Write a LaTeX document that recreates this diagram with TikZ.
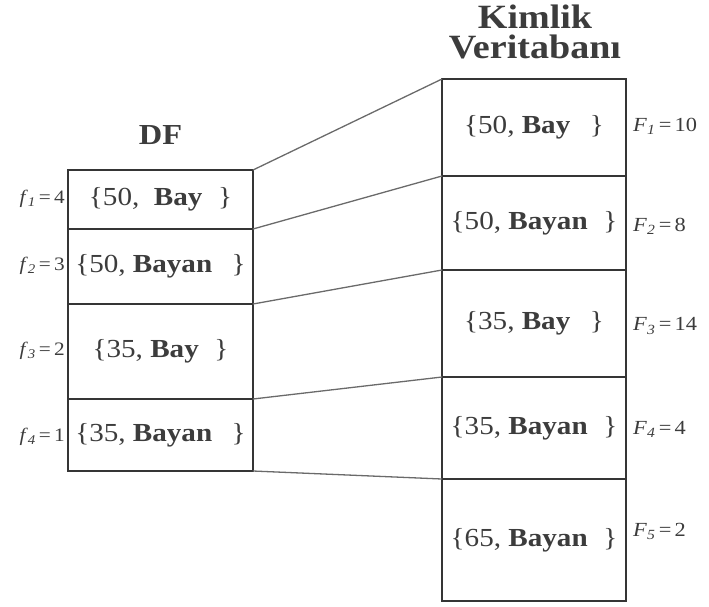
\documentclass[tikz,border=0pt]{standalone}
\usepackage{fontspec}
\setmainfont{Liberation Serif}[FakeStretch=1.12]
\definecolor{ink}{HTML}{3C3C3C}
\definecolor{rule}{HTML}{353535}
\definecolor{link}{HTML}{6A6A6A}
\begin{document}
\begin{tikzpicture}[x=1pt,y=-1pt,
  cell/.style={draw=rule, line width=2.4pt, outer sep=0pt, inner sep=0pt,
    text=ink, font=\fontsize{26}{30}\selectfont},
  lcell/.style={cell, minimum width=185pt},
  rcell/.style={cell, minimum width=184pt},
  link/.style={draw=link, line width=1.3pt},
  flab/.style={text=ink, inner sep=0pt, anchor=east, font=\fontsize{19}{22}\selectfont},
  Flab/.style={text=ink, inner sep=0pt, anchor=west, font=\fontsize{20}{24}\selectfont},
  title/.style={text=ink, inner sep=0pt, align=center}
]
\useasboundingbox (0,0) rectangle (709,606);

% titles
\node[title, anchor=base, font=\bfseries\fontsize{29}{31}\selectfont] (tdf) at (160.5,144) {DF};
\node[title, anchor=north, font=\bfseries\fontsize{34}{30}\selectfont] (tkv) at (535,5) {Kimlik\\Veritaban\i};

% left table (DF)
\node[lcell, minimum height=59pt] (l1) at (160.5,199.5) {\{50, \ \textbf{Bay}\hspace{0.6em}\}};
\node[lcell, minimum height=75pt] (l2) at (160.5,266.5) {\{50, \textbf{Bayan}\hspace{0.75em}\}};
\node[lcell, minimum height=95pt] (l3) at (160.5,351.5) {\{35, \textbf{Bay}\hspace{0.6em}\}};
\node[lcell, minimum height=72pt] (l4) at (160.5,435) {\{35, \textbf{Bayan}\hspace{0.75em}\}};

% right table (Kimlik Veritabani)
\node[rcell, minimum height=97pt] (r1) at (534,127.5) {\{50, \textbf{Bay}\hspace{0.75em}\}};
\node[rcell, minimum height=94pt] (r2) at (534,223) {\{50, \textbf{Bayan}\hspace{0.6em}\}};
\node[rcell, minimum height=107pt] (r3) at (534,323.5) {\{35, \textbf{Bay}\hspace{0.75em}\}};
\node[rcell, minimum height=102pt] (r4) at (534,428) {\{35, \textbf{Bayan}\hspace{0.6em}\}};
\node[rcell, minimum height=122pt] (r5) at (534,540) {\{65, \textbf{Bayan}\hspace{0.6em}\}};

% connectors between the tables
\draw[link] (l1.north east) -- (r1.north west);
\draw[link] (l1.south east) -- (r2.north west);
\draw[link] (l2.south east) -- (r3.north west);
\draw[link] (l3.south east) -- (r4.north west);
\draw[link] (l4.south east) -- (r5.north west);

% frequency labels
\node[flab] (f1) at (65,199) {\textit{f}\textsubscript{\textit{1}}\,=\,4};
\node[flab] (f2) at (65,266) {\textit{f}\textsubscript{\textit{2}}\,=\,3};
\node[flab] (f3) at (65,351) {\textit{f}\textsubscript{\textit{3}}\,=\,2};
\node[flab] (f4) at (65,437) {\textit{f}\textsubscript{\textit{4}}\,=\,1};

\node[Flab] (F1) at (633,126) {\textit{F}\textsubscript{\textit{1}}\,=\,10};
\node[Flab] (F2) at (633,226) {\textit{F}\textsubscript{\textit{2}}\,=\,8};
\node[Flab] (F3) at (633,326) {\textit{F}\textsubscript{\textit{3}}\,=\,14};
\node[Flab] (F4) at (633,429) {\textit{F}\textsubscript{\textit{4}}\,=\,4};
\node[Flab] (F5) at (633,531) {\textit{F}\textsubscript{\textit{5}}\,=\,2};
\end{tikzpicture}
\end{document}
